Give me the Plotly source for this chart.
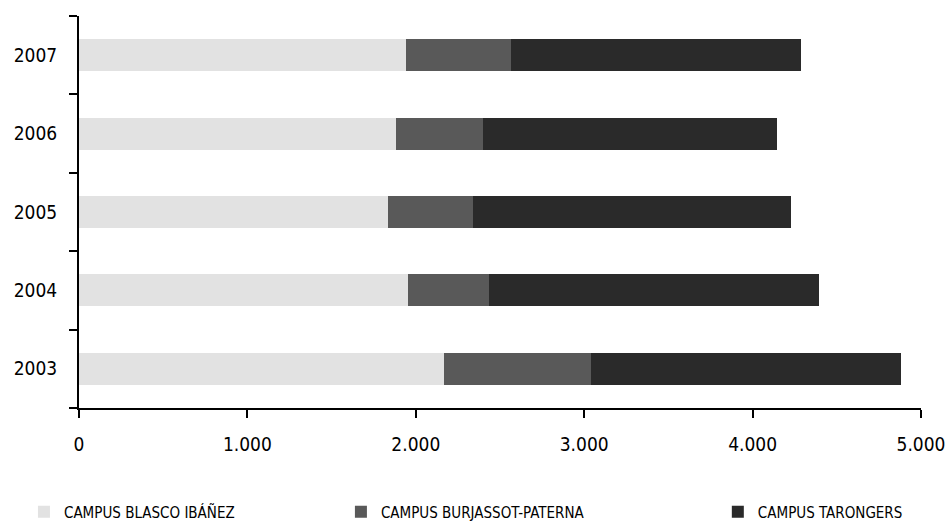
import plotly.graph_objects as go

years = ["2003", "2004", "2005", "2006", "2007"]
blasco = [2167, 1954, 1835, 1882, 1942]
burjassot = [873, 481, 505, 517, 623]
tarongers = [1841, 1959, 1888, 1746, 1722]
series_names = ["CAMPUS BLASCO IBÁÑEZ", "CAMPUS BURJASSOT-PATERNA", "CAMPUS TARONGERS"]
colors = ["#e2e2e2", "#595959", "#2a2a2a"]
x_ticks = [0, 1000, 2000, 3000, 4000, 5000]

fig = go.Figure()
for vals, name, col, lg in zip([blasco, burjassot, tarongers], series_names, colors,
                               ["legend", "legend2", "legend3"]):
    fig.add_trace(go.Bar(y=years, x=vals, name=name, orientation="h", showlegend=True,
                         marker=dict(color=col, line=dict(width=0)), legend=lg))

legend_font = dict(family="DejaVu Sans Condensed", size=15, color="#000000")
common_leg = dict(orientation="h", xref="container", yref="container",
                  yanchor="middle", y=0.021, xanchor="left",
                  font=legend_font, bgcolor="rgba(0,0,0,0)", borderwidth=0)

fig.update_layout(
    width=947, height=523,
    showlegend=True,
    margin=dict(l=79, r=26, t=16, b=115, autoexpand=False),
    paper_bgcolor="white", plot_bgcolor="white",
    barmode="stack", bargap=0.59,
    separators=",.",
    font=dict(family="DejaVu Sans Condensed", size=19, color="#000000"),
    legend=dict(x=0.0253, **common_leg),
    legend2=dict(x=0.360, **common_leg),
    legend3=dict(x=0.758, **common_leg),
    xaxis=dict(range=[0, 5000], tickvals=x_ticks, tickformat=",d",
               showgrid=False, zeroline=False, showline=True, linecolor="black",
               linewidth=2, ticks="outside", ticklen=8, tickwidth=1.5,
               tickcolor="black", ticklabelstandoff=10,
               tickfont=dict(family="DejaVu Sans Condensed", size=19)),
    yaxis=dict(type="category", showgrid=False, zeroline=False, showline=True,
               linecolor="black", linewidth=2, ticks="outside", ticklen=8,
               tickwidth=1.5, tickcolor="black", tickson="boundaries",
               ticklabelstandoff=16,
               tickfont=dict(family="DejaVu Sans Condensed", size=19)),
)

fig.write_html("out.html", config={"displayModeBar": False},
               post_script="document.body.style.margin='0';")
